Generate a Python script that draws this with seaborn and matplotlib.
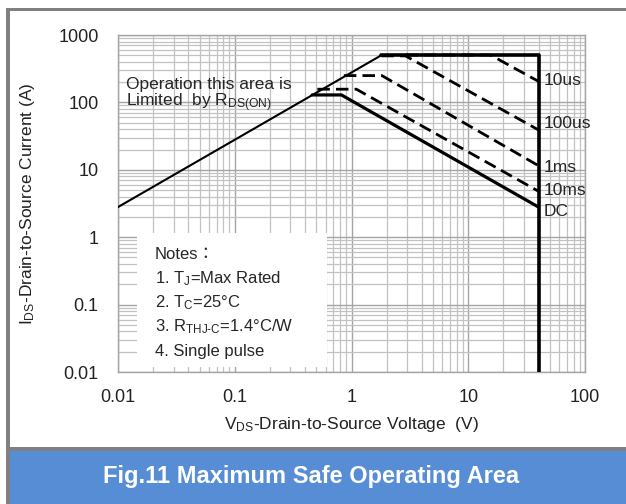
import numpy as np
import pandas as pd
import matplotlib
matplotlib.use('Agg')
import matplotlib.pyplot as plt
from matplotlib.patches import Rectangle
import seaborn as sns

# --- data (V in volts, I in amps) ---
rds_v = [0.01, 1.8]
rds_i = [2.8, 500]
limit_v = [1.8, 40, 40]
limit_i = [500, 500, 0.01]
dc_v = [0.46, 0.82, 40]
dc_i = [129, 129, 2.8]
ms10_v = [0.51, 1.1, 40]
ms10_i = [157, 157, 4.8]
ms1_v = [0.86, 1.82, 40]
ms1_i = [250, 250, 11.5]
us100_v = [1.8, 2.9, 40]
us100_i = [490, 490, 39]
us10_v = [2.9, 15.5, 40]
us10_i = [505, 505, 205]

curve_names = ['10us', '100us', '1ms', '10ms', 'DC']
curve_label_i = [214, 49, 11, 5.0, 2.4]

x_ticks = [0.01, 0.1, 1, 10, 100]
x_ticklabels = ['0.01', '0.1', '1', '10', '100']
y_ticks = [0.01, 0.1, 1, 10, 100, 1000]
y_ticklabels = ['0.01', '0.1', '1', '10', '100', '1000']

sns.set_style('white')
plt.rcParams['font.family'] = ['Liberation Sans', 'Noto Sans CJK JP', 'DejaVu Sans']
plt.rcParams['mathtext.default'] = 'regular'

fig = plt.figure(figsize=(6.26, 5.04), dpi=100)
ax = fig.add_axes([118/626, 1 - 372/504, 467/626, 337/504])

ax.set_xscale('log')
ax.set_yscale('log')
ax.set_xlim(0.01, 100)
ax.set_ylim(0.01, 1000)

ax.grid(which='minor', color='#c2c2c2', lw=0.9, zorder=0)
ax.grid(which='major', color='#a4a4a4', lw=1.0, zorder=0)
ax.set_axisbelow(True)
for s in ax.spines.values():
    s.set_color('#a4a4a4')
    s.set_linewidth(1.0)

# white box behind the notes hides the grid
ax.add_patch(Rectangle((0.041, 0.015), 0.407, 0.397, transform=ax.transAxes,
                       facecolor='white', edgecolor='none', zorder=1.5))

def draw(v, i, lw, ls='-'):
    df = pd.DataFrame({'v': v, 'i': i})
    sns.lineplot(data=df, x='v', y='i', ax=ax, color='black', lw=lw,
                 estimator=None, sort=False, linestyle=ls, zorder=3)

draw(rds_v, rds_i, 1.5)
draw(limit_v, limit_i, 2.6)
draw(dc_v, dc_i, 2.3)
for v, i in [(ms10_v, ms10_i), (ms1_v, ms1_i), (us100_v, us100_i), (us10_v, us10_i)]:
    draw(v, i, 2.0, (0, (4.5, 2.2)))

for name, yi in zip(curve_names, curve_label_i):
    ax.text(44, yi, name, fontsize=12.5, va='center', ha='left', zorder=4)

ax.text(0.0117, 186, 'Operation this area is', fontsize=12.5, va='center', ha='left')
ax.text(0.0117, 100, r'Limited  by $R_{DS(ON)}$', fontsize=12.5, va='center', ha='left')

notes = ['Notes：', '1. $T_J$=Max Rated', '2. $T_C$=25°C',
         '3. $R_{THJ\u2010C}$=1.4°C/W', '4. Single pulse']
for k, t in enumerate(notes):
    ax.text(0.079, 0.350 - k * 0.0722, t, transform=ax.transAxes,
            fontsize=12, va='center', ha='left', zorder=4)

ax.set_xticks(x_ticks, x_ticklabels)
ax.set_yticks(y_ticks, y_ticklabels)
ax.tick_params(which='both', length=0, labelsize=13, colors='#222222')
ax.tick_params(axis='x', pad=12)
ax.tick_params(axis='y', pad=14)

ax.set_xlabel('$V_{DS}$-Drain-to-Source Voltage  (V)', fontsize=12.5, color='#222222')
ax.set_ylabel('$I_{DS}$-Drain-to-Source Current (A)', fontsize=12.5, color='#222222')
ax.xaxis.set_label_coords(0.5, -0.128)
ax.yaxis.set_label_coords(-0.173, 0.5)

# frame and caption band
fig.patches.append(Rectangle((6/626, 1 - 504/504), 4/626, 496/504, transform=fig.transFigure,
                             facecolor='#808080', edgecolor='none'))
fig.patches.append(Rectangle((6/626, 1 - 11/504), 620/626, 3/504, transform=fig.transFigure,
                             facecolor='#808080', edgecolor='none'))
fig.patches.append(Rectangle((10/626, 1 - 451/504), 616/626, 4/504, transform=fig.transFigure,
                             facecolor='#808080', edgecolor='none'))
fig.patches.append(Rectangle((10/626, 0), 616/626, 53/504, transform=fig.transFigure,
                             facecolor='#578dd4', edgecolor='none'))
fig.text(311/626, 1 - 477/504, 'Fig.11 Maximum Safe Operating Area', color='white',
         fontsize=17, fontweight='bold', ha='center', va='center')

fig.savefig('out.png', dpi=100)
